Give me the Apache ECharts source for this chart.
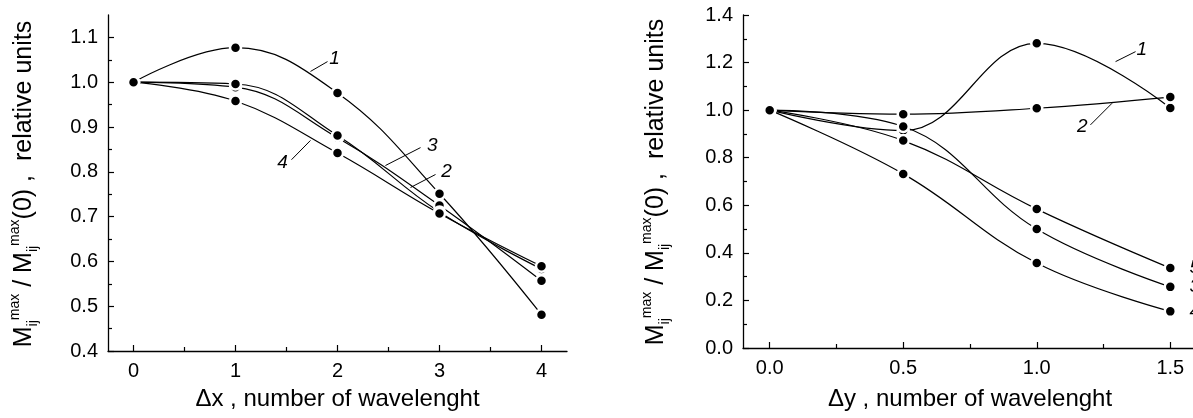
<!DOCTYPE html>
<html lang="en">
<head>
    <meta charset="UTF-8">
    <script src="https://cdn.jsdelivr.net/npm/echarts@6/dist/echarts.min.js"></script>
    <title>M max ratio vs shift</title>
    <style>
        html, body { margin: 0; padding: 0; background: #fff; }
        #chart { width: 1193px; height: 418px; }
    </style>
</head>
<body>
<div id="chart"></div>
<script type="text/javascript">
    // left panel: shift along x
    var xLeft = [0, 1, 2, 3, 4];
    var left1 = [1.000, 1.077, 0.976, 0.751, 0.481];
    var left2 = [1.000, 0.989, 0.876, 0.725, 0.557];
    var left3 = [1.000, 0.996, 0.881, 0.710, 0.583];
    var left4 = [1.000, 0.958, 0.842, 0.707, 0.589];

    // right panel: shift along y
    var xRight = [0, 0.5, 1.0, 1.5];
    var right1 = [1.000, 0.914, 1.281, 1.009];
    var right2 = [1.000, 0.983, 1.008, 1.055];
    var right3 = [1.000, 0.931, 0.500, 0.257];
    var right4 = [1.000, 0.732, 0.357, 0.154];
    var right5 = [1.000, 0.872, 0.584, 0.336];

    // ticks
    var leftXTicks = [0, 1, 2, 3, 4];
    var leftXMinor = [0.5, 1.5, 2.5, 3.5];
    var leftYTicks = [0.4, 0.5, 0.6, 0.7, 0.8, 0.9, 1.0, 1.1];
    var leftYMinor = [0.45, 0.55, 0.65, 0.75, 0.85, 0.95, 1.05];
    var rightXTicks = [0, 0.5, 1.0, 1.5];
    var rightXMinor = [0.25, 0.75, 1.25];
    var rightYTicks = [0, 0.2, 0.4, 0.6, 0.8, 1.0, 1.2, 1.4];
    var rightYMinor = [0.1, 0.3, 0.5, 0.7, 0.9, 1.1, 1.3];

    var xNameLeft = '\u0394x , number of wavelenght';
    var xNameRight = '\u0394y , number of wavelenght';
    var yName = '{m|M}{sub|ij}{sup|max}{m| / M}{sub|ij}{sup|max}{m|(0) ,  relative units}';

    var FONT = 'Liberation Sans';

    function pairs(xs, ys) {
        return xs.map(function (x, i) { return [x, ys[i]]; });
    }

    // label only the values listed in ticks
    function onlyAt(ticks, digits) {
        return function (v) {
            for (var i = 0; i < ticks.length; i++) {
                if (Math.abs(ticks[i] - v) < 1e-6) return v.toFixed(digits);
            }
            return '';
        };
    }

    function mainAxis(min, max, step, ticks, digits, extra) {
        var a = {
            type: 'value',
            min: min,
            max: max,
            interval: step,
            splitLine: {show: false},
            axisLine: {show: true, onZero: false, lineStyle: {color: '#000', width: 1.3}},
            axisTick: {show: true, inside: true, length: 6, customValues: ticks, lineStyle: {color: '#000', width: 1.2}},
            axisLabel: {
                color: '#000', fontSize: 20, fontFamily: FONT, margin: 10,
                showMinLabel: true, showMaxLabel: true, formatter: onlyAt(ticks, digits)
            }
        };
        for (var k in extra) a[k] = extra[k];
        return a;
    }

    function minorAxis(min, max, ticks, extra) {
        var a = {
            type: 'value',
            min: min,
            max: max,
            splitLine: {show: false},
            axisLine: {show: false, onZero: false},
            axisTick: {show: true, inside: true, length: 4, customValues: ticks, lineStyle: {color: '#000', width: 1.2}},
            axisLabel: {show: false}
        };
        for (var k in extra) a[k] = extra[k];
        return a;
    }

    var xNameStyle = {color: '#000', fontSize: 24, fontFamily: FONT};
    var yNameRich = {
        m: {fontSize: 25, fontFamily: FONT, fill: '#000', lineHeight: 32},
        sub: {fontSize: 14, fontFamily: FONT, fill: '#000', verticalAlign: 'bottom', lineHeight: 32},
        sup: {fontSize: 14, fontFamily: FONT, fill: '#000', verticalAlign: 'top', lineHeight: 32}
    };

    function curve(name, xs, ys, xi, yi) {
        return {
            name: name,
            type: 'line',
            xAxisIndex: xi,
            yAxisIndex: yi,
            data: pairs(xs, ys),
            smooth: 0.4,
            symbol: 'circle',
            symbolSize: 11,
            lineStyle: {color: '#000', width: 1.2},
            itemStyle: {color: '#000', borderColor: '#fff', borderWidth: 2.5},
            z: 3
        };
    }

    function leaders(segs) {
        return {
            silent: true,
            symbol: ['none', 'none'],
            lineStyle: {color: '#000', width: 1, type: 'solid'},
            label: {show: false},
            data: segs.map(function (s) { return [{coord: s[0]}, {coord: s[1]}]; })
        };
    }

    function tags(list, pos) {
        return {
            silent: true,
            symbol: 'circle',
            symbolSize: 0,
            label: {
                show: true, position: pos, distance: 0, formatter: '{b}',
                color: '#000', fontSize: 19, fontStyle: 'italic', fontFamily: FONT
            },
            data: list.map(function (t) { return {name: t[0], coord: t[1]}; })
        };
    }

    var s = [
        curve('1', xLeft, left1, 0, 0),
        curve('2', xLeft, left2, 0, 0),
        curve('3', xLeft, left3, 0, 0),
        curve('4', xLeft, left4, 0, 0),
        curve('1', xRight, right1, 2, 2),
        curve('2', xRight, right2, 2, 2),
        curve('3', xRight, right3, 2, 2),
        curve('4', xRight, right4, 2, 2),
        curve('5', xRight, right5, 2, 2)
    ];

    // curve number labels with short leader lines
    s[0].markLine = leaders([
        [[1.735, 1.024], [1.902, 1.046]],
        [[1.735, 0.870], [1.549, 0.827]],
        [[2.47, 0.814], [2.814, 0.854]],
        [[2.716, 0.765], [2.961, 0.794]]
    ]);
    s[0].markPoint = tags([
        ['1', [1.97, 1.052]],
        ['4', [1.46, 0.82]],
        ['3', [2.93, 0.858]],
        ['2', [3.07, 0.80]]
    ], 'inside');
    s[4].markLine = leaders([
        [[1.295, 1.204], [1.370, 1.246]],
        [[1.282, 1.029], [1.201, 0.938]]
    ]);
    s[4].markPoint = tags([
        ['1', [1.393, 1.253]],
        ['2', [1.170, 0.930]]
    ], 'inside');
    s[5].markPoint = tags([
        ['5', [1.572, 0.336]],
        ['3', [1.572, 0.257]],
        ['4', [1.572, 0.154]]
    ], 'right');

    var myChart = echarts.init(document.getElementById('chart'));
    var option = {
        animation: false,
        backgroundColor: '#fff',
        textStyle: {fontFamily: FONT},
        grid: [
            {left: 108, top: 15, width: 459, height: 336, outerBoundsMode: 'none', containLabel: false},
            {left: 743, top: 15, width: 454, height: 333, outerBoundsMode: 'none', containLabel: false}
        ],
        xAxis: [
            mainAxis(-0.25, 4.25, 0.25, leftXTicks, 0, {
                gridIndex: 0, position: 'bottom', name: xNameLeft, nameLocation: 'middle', nameGap: 36, nameTextStyle: xNameStyle
            }),
            minorAxis(-0.25, 4.25, leftXMinor, {gridIndex: 0, position: 'bottom', offset: 0}),
            mainAxis(-0.1, 1.6, 0.1, rightXTicks, 1, {
                gridIndex: 1, position: 'bottom', name: xNameRight, nameLocation: 'middle', nameGap: 39, nameTextStyle: xNameStyle
            }),
            minorAxis(-0.1, 1.6, rightXMinor, {gridIndex: 1, position: 'bottom', offset: 0})
        ],
        yAxis: [
            mainAxis(0.4, 1.15, 0.05, leftYTicks, 1, {gridIndex: 0, position: 'left'}),
            minorAxis(0.4, 1.15, leftYMinor, {gridIndex: 0, position: 'left', offset: 0}),
            mainAxis(0, 1.4, 0.1, rightYTicks, 1, {gridIndex: 1, position: 'left'}),
            minorAxis(0, 1.4, rightYMinor, {gridIndex: 1, position: 'left', offset: 0})
        ],
        graphic: [
            {
                type: 'text', x: 24, y: 184, rotation: Math.PI / 2, silent: true,
                style: {text: yName, rich: yNameRich, align: 'center', verticalAlign: 'middle', fill: '#000'}
            },
            {
                type: 'text', x: 656, y: 182, rotation: Math.PI / 2, silent: true,
                style: {text: yName, rich: yNameRich, align: 'center', verticalAlign: 'middle', fill: '#000'}
            }
        ],
        series: s
    };
    myChart.setOption(option);
</script>
</body>
</html>
